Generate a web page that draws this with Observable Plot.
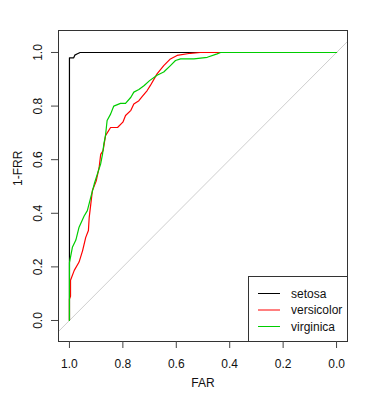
<!DOCTYPE html>
<html>
<head>
<meta charset="utf-8">
<script src="https://cdn.jsdelivr.net/npm/d3@7"></script>
<script src="https://cdn.jsdelivr.net/npm/@observablehq/plot@0.6"></script>
<style>
  html, body { margin: 0; padding: 0; background: white; }
  #wrap { position: relative; width: 377px; height: 400px; }
  #legend { position: absolute; left: 248px; top: 276px; }
</style>
</head>
<body>
<div id="wrap"></div>
<script>
// Series names and colours
const series = ["setosa", "versicolor", "virginica"];
const colors = ["#000000", "#FF0000", "#00CD00"];

// FAR (x) and 1-FRR (y) for each class
const setosaFAR = [1, 1, 0.984, 0.98, 0.97, 0.96, 0];
const setosaTPR = [0, 0.98, 0.98, 0.99, 0.995, 1, 1];

const versicolorFAR = [1, 1, 0.996, 0.996, 0.982, 0.964, 0.951, 0.939, 0.929, 0.926, 0.92, 0.914, 0.90, 0.889, 0.883, 0.874, 0.865, 0.846, 0.82, 0.80, 0.79, 0.77, 0.759, 0.74, 0.728, 0.709, 0.697, 0.672, 0.647, 0.622, 0.597, 0.547, 0.51, 0];
const versicolorTPR = [0, 0.08, 0.09, 0.15, 0.187, 0.218, 0.26, 0.31, 0.336, 0.385, 0.435, 0.485, 0.52, 0.57, 0.62, 0.634, 0.69, 0.72, 0.72, 0.74, 0.765, 0.784, 0.808, 0.82, 0.835, 0.858, 0.877, 0.92, 0.951, 0.976, 0.989, 0.997, 1, 1];

const virginicaFAR = [1, 1, 0.989, 0.976, 0.964, 0.945, 0.933, 0.92, 0.907, 0.895, 0.883, 0.876, 0.871, 0.865, 0.859, 0.846, 0.834, 0.809, 0.79, 0.77, 0.759, 0.74, 0.72, 0.70, 0.672, 0.647, 0.622, 0.603, 0.584, 0.534, 0.484, 0.447, 0.434, 0];
const virginicaTPR = [0, 0.216, 0.273, 0.30, 0.348, 0.39, 0.41, 0.46, 0.51, 0.548, 0.585, 0.622, 0.66, 0.69, 0.746, 0.77, 0.80, 0.81, 0.81, 0.833, 0.852, 0.862, 0.877, 0.895, 0.915, 0.927, 0.951, 0.97, 0.976, 0.976, 0.982, 0.995, 1, 1];

// Axis ticks
const xTicks = [1.0, 0.8, 0.6, 0.4, 0.2, 0.0];
const yTicks = [0.0, 0.2, 0.4, 0.6, 0.8, 1.0];
const xDomain = [1.041, -0.041];
const yDomain = [-0.0784, 1.082];

const rows = (fars, tprs, name) => fars.map((f, i) => ({far: f, tpr: tprs[i], cls: name}));
const data = [
  ...rows(setosaFAR, setosaTPR, "setosa"),
  ...rows(versicolorFAR, versicolorTPR, "versicolor"),
  ...rows(virginicaFAR, virginicaTPR, "virginica")
];
const diagonal = xDomain.map(x => ({far: x, tpr: 1 - x}));

const plot = Plot.plot({
  width: 377,
  height: 400,
  marginLeft: 58,
  marginRight: 30,
  marginTop: 30,
  marginBottom: 59,
  x: {domain: xDomain},
  y: {domain: yDomain},
  color: {domain: series, range: colors},
  style: {fontFamily: "'Liberation Sans', Arial, sans-serif", fontSize: "12px", background: "white", color: "#111"},
  marks: [
    Plot.line(diagonal, {x: "far", y: "tpr", stroke: "#cfcfcf", strokeWidth: 1}),
    Plot.line(data, {x: "far", y: "tpr", z: "cls", stroke: "cls", strokeWidth: 1.2, curve: "linear"}),
    Plot.frame({stroke: "#333", strokeWidth: 1}),
    Plot.axisX(xTicks, {tickSize: 7, tickPadding: 11, tickFormat: d3.format(".1f"), label: null, stroke: "#444", fill: "#111"}),
    Plot.axisY(yTicks, {tickSize: 7, tickPadding: 10, tickRotate: -90, tickFormat: d3.format(".1f"), label: null, stroke: "#444", fill: "#111"}),
    Plot.text(["FAR"], {frameAnchor: "bottom", dy: 45, text: d => d, fontSize: 12, fill: "#111"}),
    Plot.text(["1-FRR"], {frameAnchor: "left", dx: -40, rotate: -90, text: d => d, fontSize: 12, fill: "#111"})
  ]
});

const wrap = document.getElementById("wrap");
wrap.appendChild(plot);

// Legend drawn inside the plot box, in its lower right corner
const lw = 99, lh = 65;
const leg = d3.select(wrap).append("svg")
  .attr("id", "legend")
  .attr("width", lw)
  .attr("height", lh)
  .style("font-family", "'Liberation Sans', Arial, sans-serif")
  .style("font-size", "12px");
leg.append("rect").attr("x", 0.5).attr("y", 0.5).attr("width", lw + 2).attr("height", lh + 2)
  .attr("fill", "white").attr("stroke", "#333");
series.forEach((s, i) => {
  const cy = 17.5 + i * 16.5;
  leg.append("line").attr("x1", 10).attr("x2", 32).attr("y1", cy).attr("y2", cy)
    .attr("stroke", colors[i]).attr("stroke-width", 1);
  leg.append("text").attr("x", 43).attr("y", cy).attr("dy", "0.35em")
    .attr("fill", "#111").text(s);
});
</script>
</body>
</html>
